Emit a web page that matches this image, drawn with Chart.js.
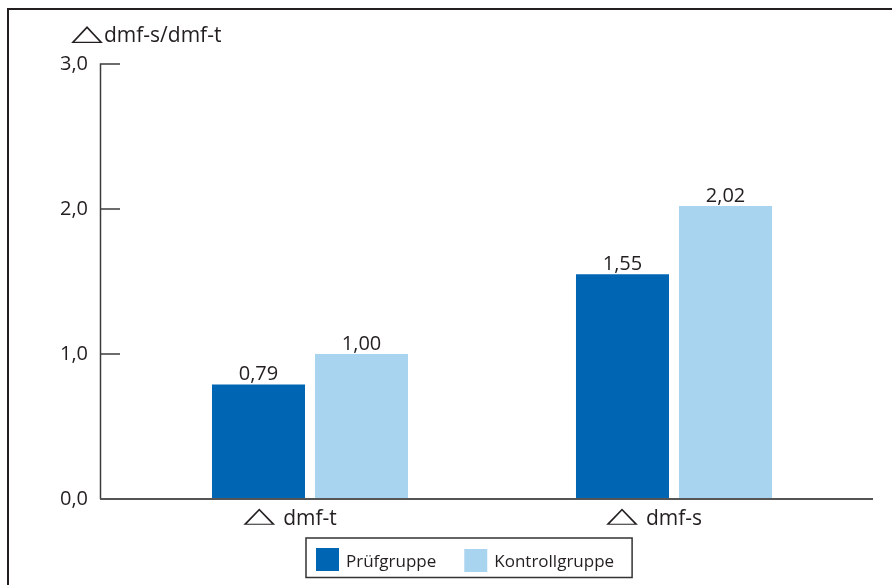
<!DOCTYPE html>
<html>
<head>
<meta charset="utf-8">
<script src="https://cdn.jsdelivr.net/npm/chart.js@4/dist/chart.umd.min.js"></script>
<style>
  html, body { margin: 0; padding: 0; background: #ffffff; }
  #wrap { width: 892px; height: 585px; position: relative; }
</style>
</head>
<body>
<div id="wrap"><canvas id="c" width="892" height="585"></canvas></div>
<script>
// Mean increment of dmf-t / dmf-s per group
const categories = ['dmf-t', 'dmf-s'];
const seriesNames = ['Prüfgruppe', 'Kontrollgruppe'];
const pruefgruppe = [0.79, 1.55];
const kontrollgruppe = [1.00, 2.02];
const yTicks = [0, 1, 2, 3];
const axisTitle = 'dmf-s/dmf-t';
const DELTA = '\u25B3';

const INK = '#231f20';
const BLUE = '#0066b3';
const LIGHT = '#a9d4ef';
const TEXT_FONT = '"Open Sans", "Noto Sans", sans-serif';

const comma = (v, d) => v.toFixed(d).replace('.', ',');

// Draws the delta glyph stretched into a given box (left, top, width, height)
function drawDelta(ctx, left, top, w, h) {
  ctx.save();
  ctx.font = '24px "DejaVu Sans"';
  ctx.textBaseline = 'alphabetic';
  ctx.textAlign = 'left';
  const m = ctx.measureText(DELTA);
  const gw = m.actualBoundingBoxLeft + m.actualBoundingBoxRight;
  const gh = m.actualBoundingBoxAscent + m.actualBoundingBoxDescent;
  const sx = w / gw, sy = h / gh;
  ctx.translate(left, top);
  ctx.scale(sx, sy);
  ctx.fillStyle = INK;
  ctx.fillText(DELTA, m.actualBoundingBoxLeft, m.actualBoundingBoxAscent);
  ctx.restore();
}

const decorations = {
  id: 'decorations',
  afterDraw(chart) {
    const ctx = chart.ctx;
    const ys = chart.scales.y;
    const xs = chart.scales.x;
    const base = ys.getPixelForValue(0);
    ctx.save();

    // outer frame
    ctx.strokeStyle = INK;
    ctx.lineWidth = 2;
    ctx.strokeRect(8, 9, 920, 640);

    // value axis with inward ticks
    const axisX = 100.5;
    ctx.strokeStyle = '#3c3c3c';
    ctx.lineWidth = 1.5;
    ctx.beginPath();
    ctx.moveTo(axisX, ys.getPixelForValue(yTicks[yTicks.length - 1]) - 0.75);
    ctx.lineTo(axisX, base);
    yTicks.forEach(t => {
      const py = ys.getPixelForValue(t);
      ctx.moveTo(axisX, py);
      ctx.lineTo(120, py);
    });
    ctx.stroke();

    // category axis line
    ctx.strokeStyle = '#555555';
    ctx.lineWidth = 2;
    ctx.beginPath();
    ctx.moveTo(100, base);
    ctx.lineTo(873, base);
    ctx.stroke();

    // value labels above the bars
    ctx.fillStyle = INK;
    ctx.font = '20px ' + TEXT_FONT;
    ctx.textAlign = 'center';
    ctx.textBaseline = 'alphabetic';
    chart.data.datasets.forEach((ds, di) => {
      chart.getDatasetMeta(di).data.forEach((bar, i) => {
        ctx.fillText(comma(ds.data[i], 2), bar.x, bar.y - 4);
      });
    });

    // category labels
    ctx.font = '21px ' + TEXT_FONT;
    ctx.textAlign = 'left';
    categories.forEach((c, i) => {
      const tw = ctx.measureText(c).width;
      const total = 33 + 7 + tw;
      const left = xs.getPixelForValue(i) - 20 - total / 2;
      drawDelta(ctx, left, 508, 33, 17);
      ctx.fillStyle = INK;
      ctx.fillText(c, left + 40, 525);
    });

    // axis title
    drawDelta(ctx, 71, 25, 33, 17.5);
    ctx.fillStyle = INK;
    ctx.font = '21px ' + TEXT_FONT;
    ctx.fillText(axisTitle, 104, 42);

    // legend
    const lx = 306, ly = 538, lh = 39.5;
    ctx.font = '17px ' + TEXT_FONT;
    let cx = lx + 10;
    const items = chart.data.datasets.map(ds => ({ label: ds.label, color: ds.backgroundColor }));
    items.forEach((it, i) => {
      ctx.fillStyle = it.color;
      ctx.fillRect(cx, ly + 10 + i, 23, 23);
      cx += 23 + 7;
      ctx.fillStyle = INK;
      ctx.fillText(it.label, cx, ly + 29);
      cx += ctx.measureText(it.label).width + (i < items.length - 1 ? 28 : 18);
    });
    ctx.strokeStyle = '#333333';
    ctx.lineWidth = 1.5;
    ctx.strokeRect(lx, ly, cx - lx, lh);

    ctx.restore();
  }
};

new Chart(document.getElementById('c'), {
  type: 'bar',
  data: {
    labels: categories,
    datasets: [
      { label: seriesNames[0], data: pruefgruppe, backgroundColor: BLUE },
      { label: seriesNames[1], data: kontrollgruppe, backgroundColor: LIGHT }
    ]
  },
  options: {
    responsive: false,
    animation: false,
    devicePixelRatio: 1,
    layout: { padding: { top: 64, bottom: 86, left: 0, right: 36 } },
    datasets: { bar: { categoryPercentage: 0.566, barPercentage: 0.903, borderWidth: 0 } },
    plugins: { legend: { display: false }, tooltip: { enabled: false }, title: { display: false } },
    scales: {
      x: { display: false },
      y: {
        min: 0, max: 3,
        afterFit: s => { s.width = 128; },
        afterBuildTicks: s => { s.ticks = yTicks.map(v => ({ value: v })); },
        border: { display: false },
        grid: { display: false, drawTicks: false },
        ticks: {
          padding: 40,
          color: INK,
          font: { family: TEXT_FONT, size: 20 },
          callback: v => comma(v, 1)
        }
      }
    }
  },
  plugins: [decorations]
});
</script>
</body>
</html>
